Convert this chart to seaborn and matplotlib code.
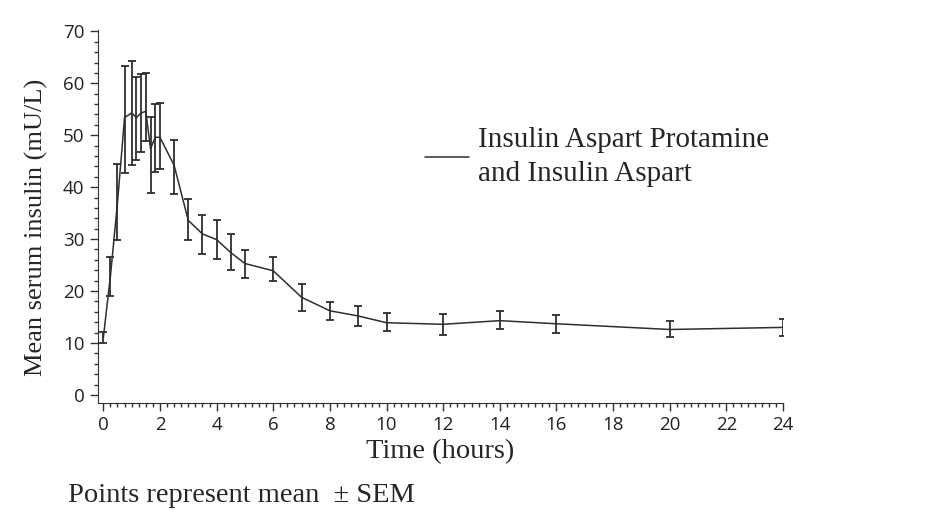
import seaborn as sns
import matplotlib.pyplot as plt
from matplotlib.ticker import MultipleLocator
import pandas as pd

# data
time_h = [0, 0.25, 0.5, 0.75, 1.0, 1.167, 1.333, 1.5, 1.667, 1.833, 2.0, 2.5, 3, 3.5,
          4, 4.5, 5, 6, 7, 8, 9, 10, 12, 14, 16, 20, 24]
mean_ins = [11.0, 22.8, 37.0, 53.4, 54.3, 53.4, 54.3, 54.6, 47.4, 49.6, 49.6, 44.2, 33.6,
            31.0, 29.9, 27.4, 25.3, 23.9, 18.8, 16.2, 15.2, 13.9, 13.6, 14.3, 13.7, 12.6, 13.0]
sem_low = [10.0, 19.0, 29.8, 42.7, 44.2, 45.2, 46.8, 48.8, 38.9, 42.9, 43.5, 38.7, 29.9,
           27.1, 26.2, 24.0, 22.6, 22.0, 16.2, 14.4, 13.3, 12.4, 11.5, 12.6, 12.0, 11.2, 11.3]
sem_high = [12.2, 26.5, 44.4, 63.3, 64.3, 61.3, 61.7, 61.9, 53.5, 56.0, 56.2, 49.0, 37.7,
            34.6, 33.7, 30.9, 27.9, 26.6, 21.3, 17.9, 17.1, 15.7, 15.6, 16.2, 15.3, 14.3, 14.6]
series_name = "Insulin Aspart Protamine\nand Insulin Aspart"

df = pd.DataFrame({"time": time_h, "mean": mean_ins, "lo": sem_low, "hi": sem_high})
df["series"] = series_name

sns.set_style("ticks")
serif = ["Liberation Serif", "DejaVu Serif"]
line_col = "#2e2e2e"

fig = plt.figure(figsize=(9.3, 5.23), dpi=100)
ax = fig.add_axes([0.105, 0.23, 0.737, 0.713])

sns.lineplot(data=df, x="time", y="mean", hue="series", palette=[line_col],
             linewidth=1.1, ax=ax)
ax.errorbar(df["time"], df["mean"],
            yerr=[df["mean"] - df["lo"], df["hi"] - df["mean"]],
            fmt="none", ecolor=line_col, elinewidth=1.3, capsize=3, capthick=1.3)

ax.set_xlim(-0.2, 24)
ax.set_ylim(-1.5, 70.3)
ax.xaxis.set_major_locator(MultipleLocator(2))
ax.xaxis.set_minor_locator(MultipleLocator(0.25))
ax.yaxis.set_major_locator(MultipleLocator(10))
ax.yaxis.set_minor_locator(MultipleLocator(2))
ax.tick_params(which="major", length=6, width=1, color="#333333", labelsize=13.5,
               labelcolor="#222222")
ax.tick_params(which="minor", length=3, width=1, color="#333333")
for lab in ax.get_xticklabels() + ax.get_yticklabels():
    lab.set_family("Open Sans")
for sp in ["top", "right"]:
    ax.spines[sp].set_visible(False)
for sp in ["left", "bottom"]:
    ax.spines[sp].set_color("#333333")

ax.set_xlabel("Time (hours)", family=serif, fontsize=20.5, labelpad=4)
ax.set_ylabel("Mean serum insulin (mU/L)", family=serif, fontsize=19)
ax.yaxis.set_label_coords(-0.072, 0.47)

leg = ax.legend(frameon=False, loc="upper left", bbox_to_anchor=(0.44, 0.81),
                prop={"family": serif, "size": 21}, handlelength=1.5, handletextpad=0.3)
for t in leg.get_texts():
    t.set_linespacing(1.4)

fig.text(0.073, 0.053, "Points represent mean  \u00b1 SEM", family=serif, fontsize=20.5,
         ha="left", va="center")

fig.savefig("out.png", dpi=100)
